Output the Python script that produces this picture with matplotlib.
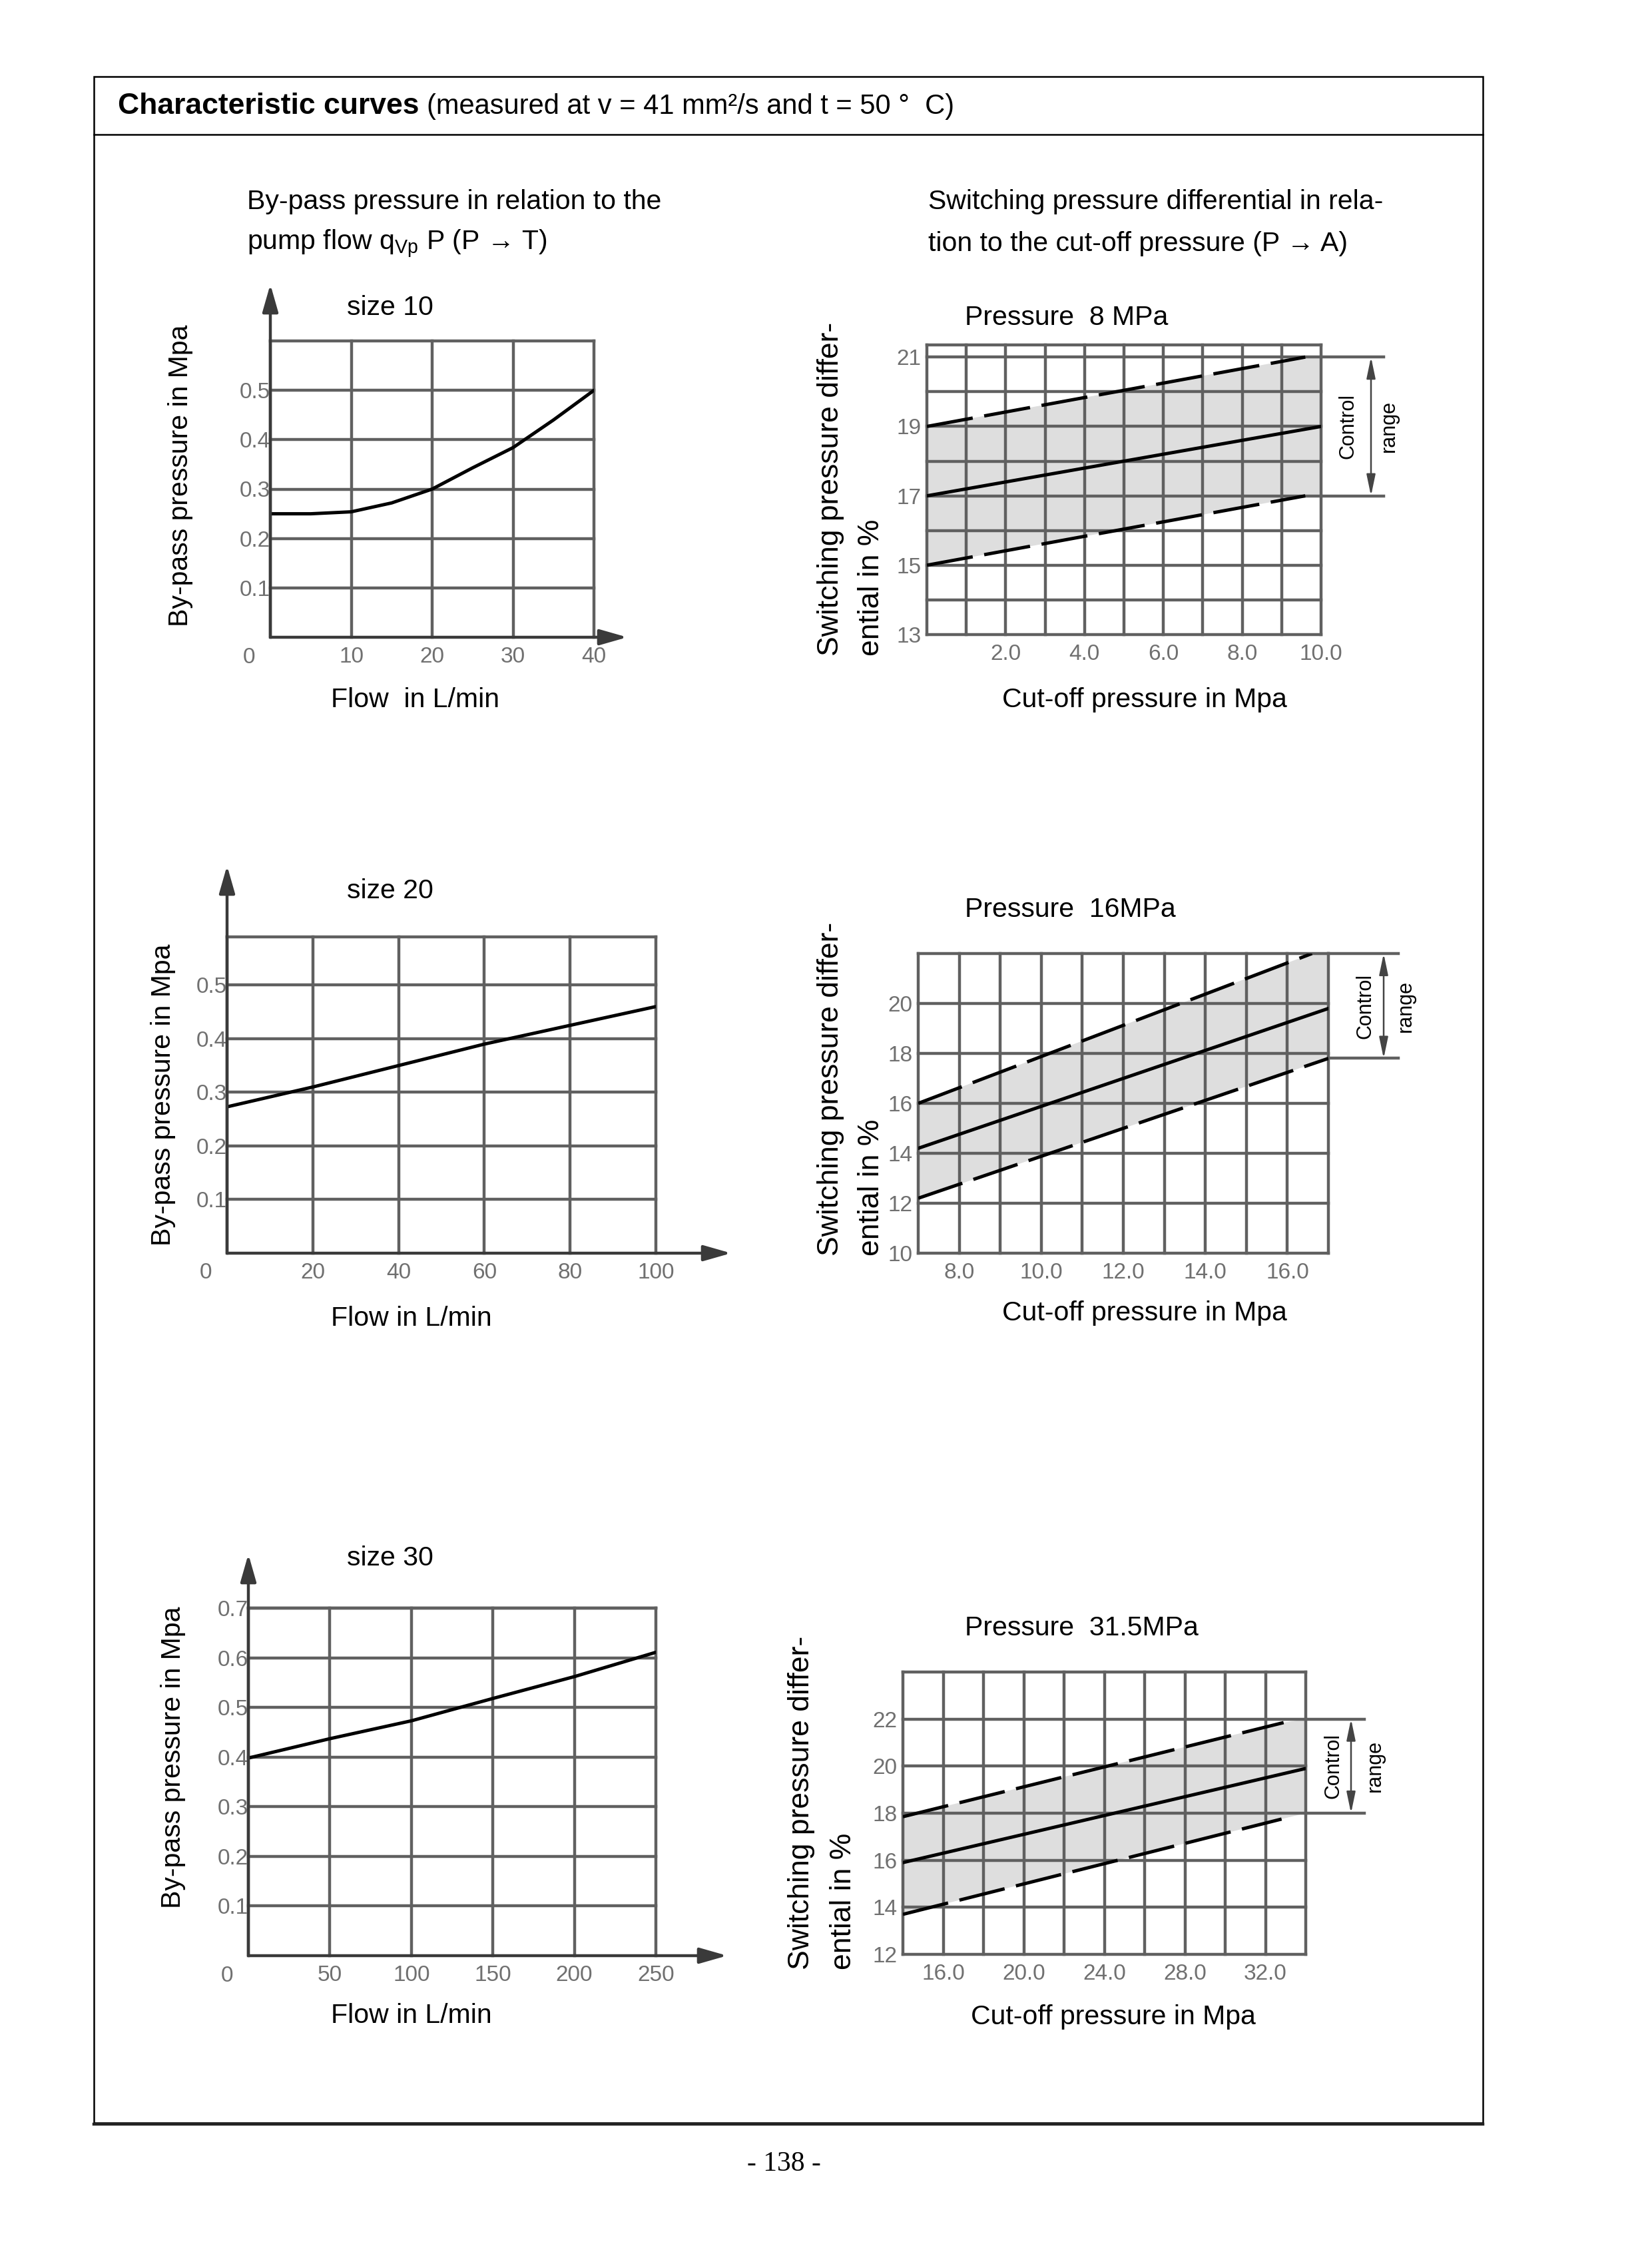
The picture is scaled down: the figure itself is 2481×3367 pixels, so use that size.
import matplotlib
matplotlib.use("Agg")
import matplotlib.pyplot as plt
import numpy as np
from matplotlib import transforms
from matplotlib.lines import Line2D
from matplotlib.patches import Rectangle
from matplotlib.text import Annotation

W, H = 2481, 3367
DPI = 100

plt.rcParams['font.family'] = ['Liberation Sans', 'DejaVu Sans']
plt.rcParams['mathtext.fontset'] = 'custom'
plt.rcParams['mathtext.rm'] = 'Liberation Sans'

# by-pass pressure (P -> T)
flow_10 = [0, 5, 10, 15, 20, 25, 30, 35, 40]
bypass_10 = [0.25, 0.25, 0.254, 0.272, 0.30, 0.343, 0.384, 0.44, 0.50]
flow_20 = [0, 20, 40, 60, 80, 100]
bypass_20 = [0.273, 0.31, 0.35, 0.39, 0.425, 0.46]
flow_30 = [0, 50, 100, 150, 200, 250]
bypass_30 = [0.398, 0.437, 0.473, 0.518, 0.562, 0.611]

# switching pressure differential (P -> A)
cut_8 = [0, 10]
mid_8 = [17, 19]
upper_x_8 = [0, 9.6]
upper_8 = [19, 21]
lower_x_8 = [0, 9.6]
lower_8 = [15, 17]
range_8 = [17, 21]

cut_16 = [7, 17]
mid_16 = [14.2, 19.8]
upper_x_16 = [7, 16.6]
upper_16 = [16, 22]
lower_x_16 = [7, 17]
lower_16 = [12.2, 17.8]
range_16 = [17.8, 22]

cut_31 = [14, 34]
mid_31 = [15.9, 19.9]
upper_x_31 = [14, 32.9]
upper_31 = [17.85, 21.85]
lower_x_31 = [14, 32.8]
lower_31 = [13.7, 17.75]
range_31 = [18, 22]

GRID = '#606060'
TICK = '#707070'
TXT = 29.5
TICKSIZE = 24
LW = 3.6

fig = plt.figure(figsize=(W / DPI, H / DPI), dpi=DPI)


def px_axes(l, t, r, b):
    return fig.add_axes([l / W, 1 - b / H, (r - l) / W, (b - t) / H])


def ftext(x, y, s, **kw):
    return fig.text(x / W, 1 - y / H, s, **kw)


def base_axes(ax, xlim, ylim, xgrid, ygrid):
    ax.set_xlim(*xlim)
    ax.set_ylim(*ylim)
    for s in ax.spines.values():
        s.set_visible(False)
    for gx in xgrid:
        ax.axvline(gx, color=GRID, lw=3.2, zorder=2, clip_on=False)
    for gy in ygrid:
        ax.axhline(gy, color=GRID, lw=3.2, zorder=2, clip_on=False)
    ax.tick_params(length=0, labelsize=TICKSIZE, labelcolor=TICK)


def bypass_chart(rect, x, y, xlim, ylim, xticks, yticks, arrow_up, arrow_right):
    ax = px_axes(*rect)
    base_axes(ax, xlim, ylim, xticks, list(yticks) + [ylim[1]])
    ax.plot(x, y, color='black', lw=LW, zorder=3, solid_capstyle='round')
    ax.set_xticks(xticks[1:])
    ax.set_xticklabels([str(v) for v in xticks[1:]])
    ax.set_yticks(yticks)
    ax.set_yticklabels(['%.1f' % v for v in yticks])
    ax.tick_params(axis='x', pad=10)
    ax.tick_params(axis='y', pad=0)
    off = transforms.ScaledTranslation(-32 / DPI, -30 / DPI, fig.dpi_scale_trans)
    ax.text(0, 0, '0', transform=ax.transAxes + off, ha='center', va='center',
            fontsize=TICKSIZE, color=TICK)
    # axis arrows
    props = dict(arrowstyle='-|>,head_length=1.4,head_width=0.4', color='#3a3a3a',
                 lw=3.2, shrinkA=0, shrinkB=0, mutation_scale=18)
    up = transforms.offset_copy(ax.transAxes, fig=fig, x=0, y=arrow_up, units='dots')
    ax.annotate('', xy=(0, 1), xycoords=up, xytext=(0, 0), textcoords='axes fraction',
                arrowprops=props, annotation_clip=False)
    right = transforms.offset_copy(ax.transAxes, fig=fig, x=arrow_right, y=0, units='dots')
    ax.annotate('', xy=(1, 0), xycoords=right, xytext=(0, 0), textcoords='axes fraction',
                arrowprops=props, annotation_clip=False)
    return ax


def switching_chart(rect, cut, mid, ux, uy, lx, ly, crange, xlim, ylim,
                    xgrid, ygrid, xticks, yticks, ext, arrow_dx, ctrl_dx, range_dx):
    ax = px_axes(*rect)
    base_axes(ax, xlim, ylim, xgrid, ygrid)
    band_x = ux + [xlim[1], xlim[1]] + lx[::-1]
    band_y = uy + [crange[1], crange[0]] + ly[::-1]
    ax.fill(band_x, band_y, color='#dedede', lw=0, zorder=1)
    dash = dict(color='black', lw=LW, zorder=3, dashes=(14, 3.5))
    ax.plot(ux, uy, **dash)
    ax.plot(lx, ly, **dash)
    ax.plot(cut, mid, color='black', lw=LW, zorder=3)
    ax.set_xticks(xticks)
    ax.set_xticklabels(['%.1f' % v for v in xticks])
    ax.set_yticks(yticks)
    ax.set_yticklabels([str(v) for v in yticks])
    ax.tick_params(axis='x', pad=10)
    ax.tick_params(axis='y', pad=6)
    # control range bracket
    r = rect[2]
    tr = transforms.blended_transform_factory(fig.transFigure, ax.transData)
    for cy in crange:
        ax.plot([r / W, (r + ext) / W], [cy, cy], transform=tr, color=GRID, lw=3.2,
                clip_on=False, zorder=2)
    ax.annotate('', xy=((r + arrow_dx) / W, crange[1]), xycoords=tr,
                xytext=((r + arrow_dx) / W, crange[0]), textcoords=tr,
                arrowprops=dict(arrowstyle='<|-|>,head_length=1.2,head_width=0.25',
                                color='#444444', lw=1.8, shrinkA=0, shrinkB=0,
                                mutation_scale=16),
                annotation_clip=False)
    ymid = (crange[0] + crange[1]) / 2
    ax.text((r + arrow_dx + ctrl_dx) / W, ymid, 'Control', transform=tr, rotation=90,
            ha='center', va='center', fontsize=22)
    ax.text((r + arrow_dx + range_dx) / W, ymid, 'range', transform=tr, rotation=90,
            ha='center', va='center', fontsize=22)
    return ax


# page frame and header
fig.patches.append(Rectangle((141 / W, 1 - 3188 / H), (2227 - 141) / W, (3188 - 115) / H,
                             transform=fig.transFigure, fill=False, ec='black', lw=1.8))
fig.lines.append(Line2D([141 / W, 2227 / W], [1 - 3190 / H, 1 - 3190 / H],
                        transform=fig.transFigure, color='#222222', lw=3.2))
fig.lines.append(Line2D([141 / W, 2227 / W], [1 - 202 / H, 1 - 202 / H],
                        transform=fig.transFigure, color='black', lw=1.8))
head = ftext(177, 180, 'Characteristic curves', fontsize=32, fontweight='bold',
             va='bottom')
fig.add_artist(Annotation(
    '(measured at v = 41 mm²/s and t = 50 °  C)', xy=(1, 0), xycoords=head,
    xytext=(8, 0), textcoords='offset points', va='bottom', ha='left', fontsize=30))

ftext(371, 303, 'By-pass pressure in relation to the', fontsize=TXT, va='center')
ftext(371, 366, r'pump flow q$_{\mathregular{Vp}}$ P (P → T)', fontsize=TXT, va='center')
ftext(1394, 303, 'Switching pressure differential in rela-', fontsize=TXT, va='center')
ftext(1394, 366, 'tion to the cut-off pressure (P → A)', fontsize=TXT, va='center')

# left column: by-pass pressure
bypass_chart((406, 512, 892, 957), flow_10, bypass_10, (0, 40), (0, 0.6),
             [0, 10, 20, 30, 40], [0.1, 0.2, 0.3, 0.4, 0.5], 85, 50)
bypass_chart((341, 1407, 985, 1882), flow_20, bypass_20, (0, 100), (0, 0.59),
             [0, 20, 40, 60, 80, 100], [0.1, 0.2, 0.3, 0.4, 0.5], 107, 113)
bypass_chart((373, 2415, 985, 2937), flow_30, bypass_30, (0, 250), (0, 0.7),
             [0, 50, 100, 150, 200, 250], [0.1, 0.2, 0.3, 0.4, 0.5, 0.6, 0.7], 81, 107)

for y, s in [(462, 'size 10'), (1338, 'size 20'), (2340, 'size 30')]:
    ftext(521, y, s, fontsize=TXT, va='center')
ftext(271, 714, 'By-pass pressure in Mpa', fontsize=TXT, rotation=90, ha='center', va='center')
ftext(245, 1644, 'By-pass pressure in Mpa', fontsize=TXT, rotation=90, ha='center', va='center')
ftext(260, 2639, 'By-pass pressure in Mpa', fontsize=TXT, rotation=90, ha='center', va='center')
ftext(497, 1051, 'Flow  in L/min', fontsize=TXT, va='center')
ftext(497, 1980, 'Flow in L/min', fontsize=TXT, va='center')
ftext(497, 3027, 'Flow in L/min', fontsize=TXT, va='center')

# right column: switching pressure differential
switching_chart((1392, 518, 1984, 953), cut_8, mid_8, upper_x_8, upper_8, lower_x_8, lower_8,
                range_8, (0, 10), (13, 21.35), np.arange(0, 11), list(np.arange(13, 22)) + [21.35],
                [2, 4, 6, 8, 10], [13, 15, 17, 19, 21], 94, 75, -35, 27)
switching_chart((1379, 1432, 1995, 1882), cut_16, mid_16, upper_x_16, upper_16, lower_x_16,
                lower_16, range_16, (7, 17), (10, 22), np.arange(7, 18), np.arange(10, 23, 2),
                [8, 10, 12, 14, 16], [10, 12, 14, 16, 18, 20], 105, 83, -28, 33)
switching_chart((1356, 2511, 1961, 2935), cut_31, mid_31, upper_x_31, upper_31, lower_x_31,
                lower_31, range_31, (14, 34), (12, 24), np.arange(14, 35, 2), np.arange(12, 25, 2),
                [16, 20, 24, 28, 32], [12, 14, 16, 18, 20, 22], 88, 68, -26, 36)

ftext(1449, 477, 'Pressure  8 MPa', fontsize=TXT, va='center')
ftext(1449, 1366, 'Pressure  16MPa', fontsize=TXT, va='center')
ftext(1449, 2445, 'Pressure  31.5MPa', fontsize=TXT, va='center')
ftext(1505, 1051, 'Cut-off pressure in Mpa', fontsize=TXT, va='center')
ftext(1505, 1972, 'Cut-off pressure in Mpa', fontsize=TXT, va='center')
ftext(1458, 3029, 'Cut-off pressure in Mpa', fontsize=TXT, va='center')

for x1, x2, yb in [(1247, 1309, 985), (1247, 1309, 1886), (1204, 1266, 2958)]:
    ftext(x1, yb, 'Switching pressure differ-', fontsize=32, rotation=90, ha='center', va='bottom')
    ftext(x2, yb, 'ential in %', fontsize=32, rotation=90, ha='center', va='bottom')

ftext(1177, 3250, '- 138 -', fontsize=30, family='Liberation Serif', ha='center', va='center')

fig.savefig('out.png', dpi=DPI, facecolor='white')
